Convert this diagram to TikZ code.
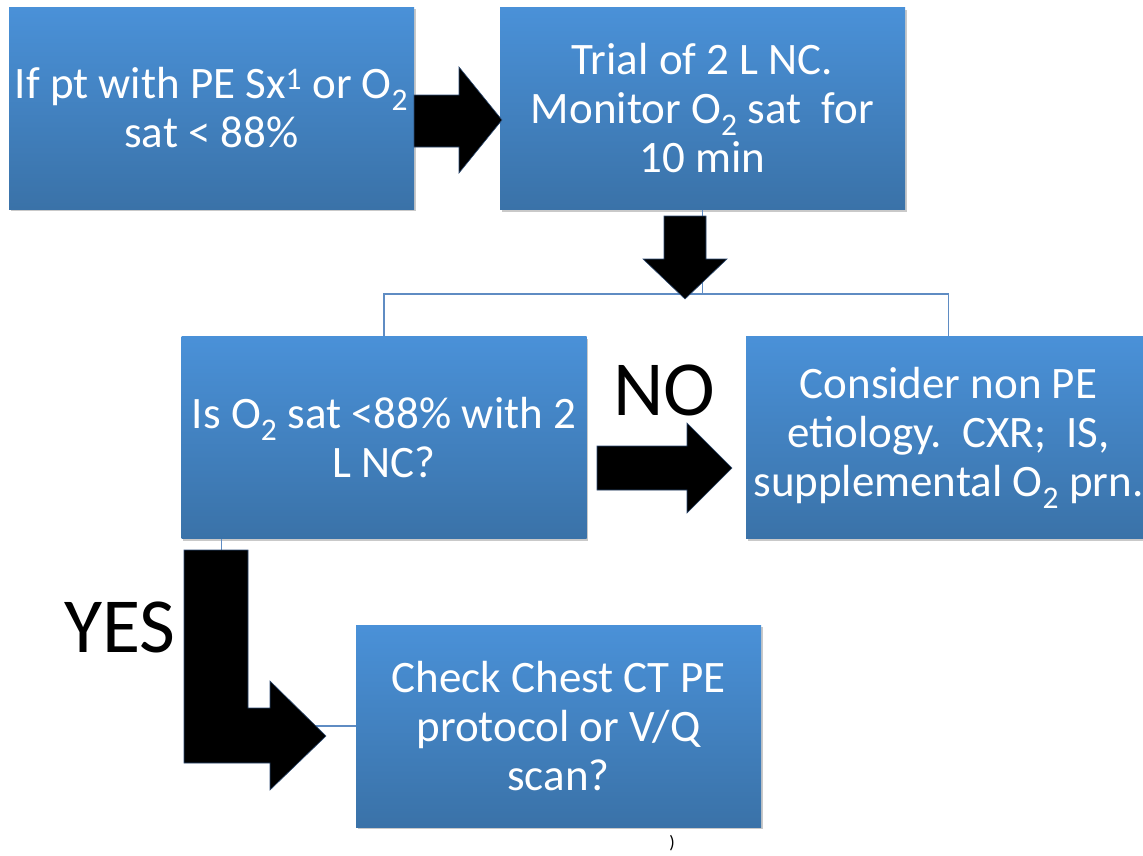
\documentclass[tikz,border=0pt]{standalone}
\usepackage{fontspec}
\setmainfont{Carlito}
\usetikzlibrary{shadows}
\definecolor{boxtop}{RGB}{74,145,216}
\definecolor{boxbot}{RGB}{58,114,168}
\definecolor{connc}{RGB}{95,140,195}
\definecolor{arredge}{RGB}{45,75,115}
\begin{document}
\begin{tikzpicture}[x=1pt,y=-1pt,
  box/.style={rectangle, minimum width=405pt, minimum height=202pt, inner sep=0pt,
    top color=boxtop, bottom color=boxbot, draw=none, text=white, align=center,
    font=\fontsize{45}{49}\selectfont,
    drop shadow={shadow xshift=1.5pt, shadow yshift=-2pt, opacity=0.3, fill=black!70}},
  connline/.style={draw=connc, line width=1.2pt},
  blockarrow/.style={fill=black, draw=arredge, line width=0.6pt, line join=miter},
  bigtext/.style={font=\fontsize{78}{90}\selectfont, text=black, inner sep=0pt}]
\useasboundingbox (0,0) rectangle (1143,855);
\clip (0,0) rectangle (1143,855);

\node[box] (b1) at (211.5,108) {If pt with PE Sx\textsuperscript{1} or O\textsubscript{2}\\sat < 88\%};
\node[box] (b2) at (702.5,108.5) {Trial of 2 L NC.\\Monitor O\textsubscript{2} sat\ \ for\\10 min};
\node[box] (b3) at (384,437.5) {Is O\textsubscript{2} sat <88\% with 2\\L NC?};
\node[box] (b4) at (948.5,437.5) {Consider non PE\\etiology.\ \ CXR;\ \ IS,\\supplemental O\textsubscript{2} prn.};
\node[box] (b5) at (558.5,726) {Check Chest CT PE\\protocol or V/Q\\scan?};

% tree connectors
\coordinate (j) at (702.5,294);
\draw[connline] (b2.south) -- (j);
\draw[connline] (b3.north) |- (j) -| (b4.north);
\draw[connline] ([xshift=40.5pt]b3.south west) |- (b5.west);

% block arrows
\filldraw[blockarrow] (414,95) -- (459,95) -- (459,67) -- (502,120) -- (459,173) -- (459,147) -- (414,147) -- cycle;
\filldraw[blockarrow] (664,216) -- (706,216) -- (706,259) -- (727,259) -- (685,299) -- (643,259) -- (664,259) -- cycle;
\filldraw[blockarrow] (597,446) -- (687,446) -- (687,423) -- (732,468) -- (687,513) -- (687,490) -- (597,490) -- cycle;
\filldraw[blockarrow] (184,550) -- (248,550) -- (248,708) -- (270,708) -- (270,681) -- (326,736) -- (270,790) -- (270,763) -- (184,763) -- cycle;

% labels
\node[bigtext, anchor=base] (no) at (664,415) {NO};
\node[bigtext, anchor=base] (yes) at (120,652) {YES};
\node[font=\fontsize{18}{20}\selectfont, inner sep=0pt] (paren) at (672,843) {)};
\end{tikzpicture}
\end{document}
